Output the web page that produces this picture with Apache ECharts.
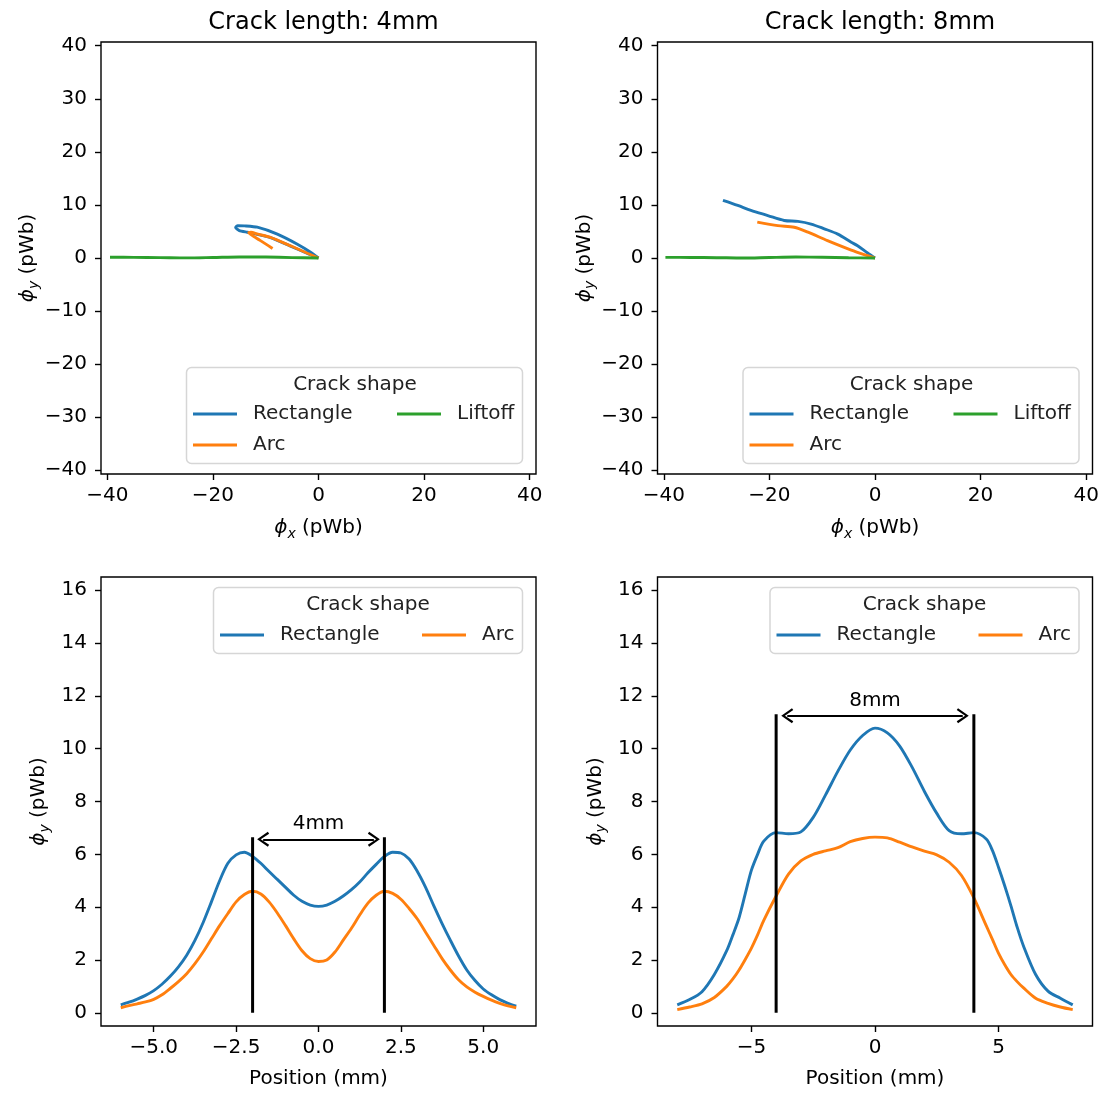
<!DOCTYPE html>
<html>
<head>
<meta charset="utf-8">
<script src="https://cdn.jsdelivr.net/npm/echarts@6.0.0/dist/echarts.min.js"></script>
<style>
html,body{margin:0;padding:0;background:#fff;}
#c{width:1104px;height:1093px;}
</style>
</head>
<body>
<div id="c"></div>
<script>
// ---------- DATA ----------
const titles = ['Crack length: 4mm', 'Crack length: 8mm'];
const seriesNames = ['Rectangle', 'Arc', 'Liftoff'];

// top-left (4mm): phi_x / phi_y trajectories
const rectPhiX4 = [0, -1.5, -4.0, -7.8, -11.6, -14.0, -15.3, -15.7, -15.0, -13.5, -12.7, -9.1, -5.3, -2.1, 0];
const rectPhiY4 = [0, 1.1, 2.6, 4.5, 5.8, 6.05, 6.1, 5.75, 5.15, 4.85, 4.7, 3.85, 2.25, 0.85, 0];
const arcPhiX4 = [0, -2.1, -5.3, -9.1, -11.5, -12.8, -13.2, -12.0, -10.4, -8.7];
const arcPhiY4 = [0, 0.9, 2.3, 3.9, 4.5, 4.85, 4.75, 3.9, 2.9, 1.8];
const liftPhiX4 = [-39.5, -35, -30, -25, -20, -15, -10, -5, 0];
const liftPhiY4 = [0.15, 0.12, 0.08, 0.02, 0.1, 0.2, 0.18, 0.08, 0];

// top-right (8mm)
const rectPhiX8 = [-28.8, -26.0, -23.5, -20.3, -17.2, -14.6, -12.1, -9.6, -7.05, -4.5, -3.3, -1.4, 0];
const rectPhiY8 = [10.85, 9.9, 8.96, 8.0, 7.07, 6.9, 6.4, 5.5, 4.5, 2.97, 2.3, 0.95, 0];
const arcPhiX8 = [-22.3, -18.4, -15.3, -12.7, -9.0, -4.5, -1.4, 0];
const arcPhiY8 = [6.76, 6.1, 5.8, 4.87, 3.28, 1.5, 0.44, 0];
const liftPhiX8 = [-39.7, -35, -30, -25, -20, -15, -10, -5, 0];
const liftPhiY8 = [0.12, 0.1, 0.06, 0.0, 0.1, 0.18, 0.15, 0.06, 0];

// bottom-left (4mm): phi_y vs position
const pos4 = [-6, -5.75, -5.5, -5.25, -5, -4.75, -4.5, -4.25, -4, -3.75, -3.5, -3.25, -3, -2.75, -2.5, -2.25, -2, -1.75, -1.5, -1.25, -1, -0.75, -0.5, -0.25, 0,
  0.25, 0.5, 0.75, 1, 1.25, 1.5, 1.75, 2, 2.25, 2.5, 2.75, 3, 3.25, 3.5, 3.75, 4, 4.25, 4.5, 4.75, 5, 5.25, 5.5, 5.75, 6];
const rect4 = [0.30, 0.40, 0.52, 0.66, 0.84, 1.08, 1.38, 1.74, 2.18, 2.74, 3.42, 4.20, 5.00, 5.66, 5.98, 6.08, 5.92, 5.66, 5.35, 5.05, 4.75, 4.45, 4.22, 4.08, 4.03,
  4.08, 4.22, 4.42, 4.66, 4.95, 5.30, 5.62, 5.92, 6.08, 6.05, 5.82, 5.35, 4.75, 4.05, 3.38, 2.75, 2.15, 1.62, 1.22, 0.90, 0.68, 0.50, 0.36, 0.25];
const arc4 = [0.19, 0.27, 0.34, 0.41, 0.51, 0.68, 0.92, 1.18, 1.48, 1.86, 2.30, 2.80, 3.30, 3.76, 4.20, 4.48, 4.60, 4.50, 4.20, 3.78, 3.30, 2.80, 2.35, 2.05, 1.94,
  2.00, 2.30, 2.75, 3.20, 3.70, 4.15, 4.45, 4.60, 4.52, 4.30, 3.95, 3.55, 3.05, 2.55, 2.05, 1.62, 1.25, 0.98, 0.78, 0.62, 0.48, 0.36, 0.26, 0.19];

// bottom-right (8mm)
const pos8 = [-8, -7.5, -7, -6.5, -6, -5.75, -5.5, -5.25, -5, -4.75, -4.5, -4, -3.5, -3, -2.5, -2, -1.5, -1, -0.5, 0,
  0.5, 1, 1.5, 2, 2.5, 3, 3.5, 4, 4.5, 4.75, 5, 5.25, 5.5, 5.75, 6, 6.5, 7, 7.5, 8];
const rect8 = [0.30, 0.50, 0.80, 1.45, 2.35, 2.95, 3.60, 4.50, 5.40, 6.00, 6.50, 6.82, 6.78, 6.85, 7.40, 8.25, 9.15, 9.95, 10.50, 10.78,
  10.60, 10.10, 9.30, 8.38, 7.55, 6.90, 6.78, 6.82, 6.58, 6.15, 5.50, 4.80, 4.05, 3.25, 2.55, 1.45, 0.82, 0.55, 0.30];
const arc8 = [0.12, 0.22, 0.34, 0.58, 1.00, 1.28, 1.62, 2.02, 2.45, 2.95, 3.50, 4.42, 5.25, 5.75, 6.00, 6.13, 6.25, 6.48, 6.60, 6.65,
  6.62, 6.46, 6.28, 6.12, 5.98, 5.70, 5.20, 4.35, 3.30, 2.78, 2.25, 1.82, 1.45, 1.18, 0.95, 0.55, 0.36, 0.22, 0.12];

// annotations (crack extents)
const crackEdges4 = [-2, 2];
const crackEdges8 = [-4, 4];
const crackLineTop4 = 6.65, crackArrowY4 = 6.57, crackArrowX4 = [-1.68, 1.68];
const crackLineTop8 = 11.3, crackArrowY8 = 11.25, crackArrowX8 = [-3.55, 3.55];
const crackLabels = ['4mm', '8mm'];

// ticks
const topXTicks = [-40, -20, 0, 20, 40];
const topYTicks = [-40, -30, -20, -10, 0, 10, 20, 30, 40];
const botYTicks = [0, 2, 4, 6, 8, 10, 12, 14, 16];
const posTicks4 = [-5, -2.5, 0, 2.5, 5];
const posTicks8 = [-5, 0, 5];

// ---------- STYLE ----------
const C = {blue: '#1f77b4', orange: '#ff7f0e', green: '#2ca02c'};
const FONT = 'DejaVu Sans';
const FS = 20;
const LW = 2.9;
const zip = (a, b) => a.map((v, i) => [v, b[i]]);
const fmtMinus = v => String(v).replace('-', '\u2212');

const G = [
  {left: 101, top: 42, width: 435, height: 432},
  {left: 657.5, top: 42, width: 435, height: 432},
  {left: 101, top: 577, width: 435, height: 449},
  {left: 657.5, top: 577, width: 435, height: 449}
];

const richName = {
  phi: {fontFamily: FONT, fontSize: FS, fontStyle: 'italic', color: '#000'},
  sub: {fontFamily: FONT, fontSize: 14, fontStyle: 'italic', color: '#000', verticalAlign: 'bottom', lineHeight: 26},
  t: {fontFamily: FONT, fontSize: FS, color: '#000'}
};

function xAxis(gi, min, max, ticks, fmt, name, gap) {
  return {
    type: 'value', gridIndex: gi, min: min, max: max,
    axisLine: {show: false, onZero: false},
    axisTick: {show: true, length: 6, lineStyle: {color: '#000', width: 1.4}, customValues: ticks},
    axisLabel: {show: true, margin: 12, color: '#000', fontFamily: FONT, fontSize: FS, customValues: ticks, formatter: fmt},
    splitLine: {show: false},
    name: name, nameLocation: 'middle', nameGap: gap,
    nameTextStyle: {fontFamily: FONT, fontSize: FS, color: '#000', rich: richName}
  };
}
function yAxis(gi, min, max, ticks, fmt, name, gap) {
  return {
    type: 'value', gridIndex: gi, min: min, max: max,
    axisLine: {show: false, onZero: false},
    axisTick: {show: true, length: 6, lineStyle: {color: '#000', width: 1.4}, customValues: ticks},
    axisLabel: {show: true, margin: 14, color: '#000', fontFamily: FONT, fontSize: FS, customValues: ticks, formatter: fmt},
    splitLine: {show: false},
    name: name, nameLocation: 'middle', nameGap: gap, nameRotate: 90,
    nameTextStyle: {fontFamily: FONT, fontSize: FS, color: '#000', rich: richName}
  };
}

const phiXName = '{phi|\u03d5}{sub|x}{t| (pWb)}';
const phiYName = '{phi|\u03d5}{sub|y}{t| (pWb)}';

const xAxes = [
  xAxis(0, -41.2, 41.2, topXTicks, v => fmtMinus(v), phiXName, 41),
  xAxis(1, -41.2, 41.2, topXTicks, v => fmtMinus(v), phiXName, 41),
  xAxis(2, -6.6, 6.6, posTicks4, v => fmtMinus(v.toFixed(1)), 'Position (mm)', 43),
  xAxis(3, -8.8, 8.8, posTicks8, v => fmtMinus(v), 'Position (mm)', 43)
];
const yAxes = [
  yAxis(0, -40.7, 40.7, topYTicks, v => fmtMinus(v), phiYName, 60),
  yAxis(1, -40.7, 40.7, topYTicks, v => fmtMinus(v), phiYName, 60),
  yAxis(2, -0.5, 16.5, botYTicks, v => String(v), phiYName, 49),
  yAxis(3, -0.5, 16.5, botYTicks, v => String(v), phiYName, 49)
];

function line(name, color, data, gi, smooth) {
  return {
    type: 'line', name: name, xAxisIndex: gi, yAxisIndex: gi, data: data,
    showSymbol: false, symbol: 'none', smooth: smooth, silent: true,
    lineStyle: {color: color, width: LW}, itemStyle: {color: color},
    emphasis: {disabled: true}
  };
}

const chevron = 'path://M0,10 L7,0 L14,10 L12.2,11.2 L7,3.4 L1.8,11.2 Z';

function crackLines(gi, edges, top, arrowX, arrowY, label) {
  const out = edges.map((x, i) => ({
    type: 'line', name: 'edge' + gi + i, xAxisIndex: gi, yAxisIndex: gi,
    data: [[x, 0], [x, top]], showSymbol: false, symbol: 'none', silent: true,
    lineStyle: {color: '#000', width: 3}, emphasis: {disabled: true}, z: 5
  }));
  out[0].markLine = {
    silent: true, symbol: [chevron, chevron], symbolSize: [15, 12],
    lineStyle: {color: '#000', width: 2, type: 'solid'},
    emphasis: {disabled: true},
    label: {show: true, position: 'insideMiddleTop', distance: 5, formatter: label, color: '#000', fontFamily: FONT, fontSize: FS},
    data: [[{coord: [arrowX[0], arrowY]}, {coord: [arrowX[1], arrowY]}]]
  };
  return out;
}

const series = [
  line('Rectangle', C.blue, zip(rectPhiX4, rectPhiY4), 0, 0.2),
  line('Arc', C.orange, zip(arcPhiX4, arcPhiY4), 0, 0.2),
  line('Liftoff', C.green, zip(liftPhiX4, liftPhiY4), 0, 0.3),
  line('Rectangle', C.blue, zip(rectPhiX8, rectPhiY8), 1, 0.3),
  line('Arc', C.orange, zip(arcPhiX8, arcPhiY8), 1, 0.3),
  line('Liftoff', C.green, zip(liftPhiX8, liftPhiY8), 1, 0.3),
  line('Rectangle', C.blue, zip(pos4, rect4), 2, 0.3),
  line('Arc', C.orange, zip(pos4, arc4), 2, 0.3),
  ...crackLines(2, crackEdges4, crackLineTop4, crackArrowX4, crackArrowY4, crackLabels[0]),
  line('Rectangle', C.blue, zip(pos8, rect8), 3, 0.3),
  line('Arc', C.orange, zip(pos8, arc8), 3, 0.3),
  ...crackLines(3, crackEdges8, crackLineTop8, crackArrowX8, crackArrowY8, crackLabels[1])
];

// legends
function leg(name, left, top) {
  return {
    data: [name], left: left, top: top, orient: 'vertical', selectedMode: false,
    icon: 'rect', itemWidth: 44, itemHeight: 3, padding: 0,
    textStyle: {fontFamily: FONT, fontSize: FS, color: '#222', padding: [0, 0, 0, 11]}
  };
}
const DX = 556.5;
const legends = [];
[0, DX].forEach(dx => {
  legends.push(leg('Rectangle', 193 + dx, 404));
  legends.push(leg('Arc', 193 + dx, 435));
  legends.push(leg('Liftoff', 397 + dx, 404));
  legends.push(leg('Rectangle', 220 + dx, 625));
  legends.push(leg('Arc', 422 + dx, 625));
});

const graphics = [];
[0, DX].forEach(dx => {
  graphics.push({type: 'rect', shape: {x: 186.5 + dx, y: 367.5, width: 336, height: 96, r: 5},
    style: {fill: 'rgba(255,255,255,0.85)', stroke: '#d6d6d6', lineWidth: 1.5}, z: 3, silent: true});
  graphics.push({type: 'text', x: 355 + dx, y: 385,
    style: {text: 'Crack shape', fontFamily: FONT, fontSize: FS, fill: '#222', textAlign: 'center', textVerticalAlign: 'middle'}, z: 4, silent: true});
  graphics.push({type: 'rect', shape: {x: 213.5 + dx, y: 587.5, width: 309, height: 66, r: 5},
    style: {fill: 'rgba(255,255,255,0.85)', stroke: '#d6d6d6', lineWidth: 1.5}, z: 3, silent: true});
  graphics.push({type: 'text', x: 368 + dx, y: 605,
    style: {text: 'Crack shape', fontFamily: FONT, fontSize: FS, fill: '#222', textAlign: 'center', textVerticalAlign: 'middle'}, z: 4, silent: true});
});

const option = {
  animation: false,
  backgroundColor: '#fff',
  title: titles.map((t, i) => ({
    text: t, left: 318.5 + i * DX, top: 6, textAlign: 'center',
    textStyle: {fontFamily: FONT, fontSize: 24, fontWeight: 'normal', color: '#000'}
  })),
  grid: G.map(g => Object.assign({show: true, borderColor: '#000', borderWidth: 1.4, backgroundColor: 'transparent', containLabel: false}, g)),
  xAxis: xAxes,
  yAxis: yAxes,
  legend: legends,
  graphic: graphics,
  series: series
};

const chart = echarts.init(document.getElementById('c'), null, {renderer: 'canvas'});
chart.setOption(option);
</script>
</body>
</html>
